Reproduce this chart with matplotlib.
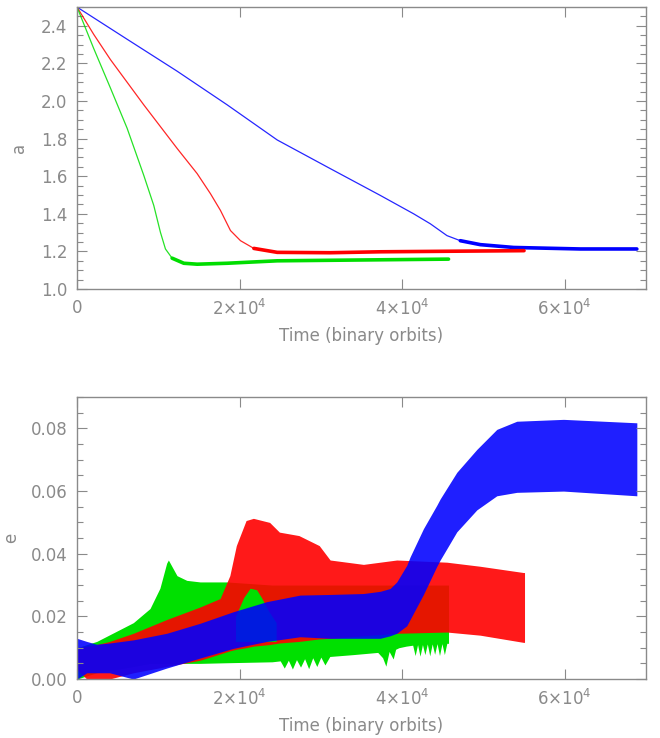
import numpy as np
import matplotlib.pyplot as plt
from matplotlib.ticker import MultipleLocator, FixedLocator

# ---- top panel: semi-major axis a vs time ----
blue_t = [0, 6158, 12315, 18470, 24630, 31140, 37315, 41420, 43470, 45520, 47160, 49620, 53720, 61930, 68880]
blue_a = [2.50, 2.329, 2.159, 1.980, 1.793, 1.641, 1.498, 1.400, 1.347, 1.284, 1.257, 1.236, 1.221, 1.213, 1.213]

red_t = [0, 2050, 4105, 8210, 12315, 14780, 16420, 17650, 18880, 20115, 21760, 24630, 31140, 37315, 55000]
red_a = [2.50, 2.355, 2.221, 1.980, 1.748, 1.614, 1.507, 1.418, 1.311, 1.257, 1.216, 1.195, 1.193, 1.198, 1.204]

green_t = [0, 2050, 4105, 6158, 8210, 9440, 10260, 10880, 11700, 13140, 14780, 18470, 24630, 45710]
green_a = [2.50, 2.28, 2.070, 1.856, 1.605, 1.445, 1.302, 1.213, 1.164, 1.137, 1.132, 1.137, 1.150, 1.159]

# ---- bottom panel: eccentricity envelopes (upper / lower) ----
g_t  = [0, 2420, 6930, 8980, 10200, 11030, 11240, 12300, 13500, 15140, 18400, 24000,
        25000, 25500, 26000, 26500, 27000, 27500, 28000, 28500, 29000, 29500, 30000, 30500, 31100,
        34000, 37000, 37600, 38000, 38400, 38900, 39200, 39600, 40500, 41300, 41600, 41900, 42200,
        42500, 42800, 43100, 43400, 43700, 44000, 44300, 44600, 44900, 45200, 45500, 45710]
g_hi = [0.010, 0.012, 0.018, 0.0225, 0.029, 0.037, 0.038, 0.033, 0.0315, 0.031, 0.031, 0.030,
        0.030, 0.030, 0.030, 0.030, 0.030, 0.030, 0.030, 0.030, 0.030, 0.030, 0.030, 0.030, 0.030,
        0.030, 0.030, 0.030, 0.030, 0.030, 0.030, 0.030, 0.030, 0.030, 0.030, 0.030, 0.030, 0.030,
        0.030, 0.030, 0.030, 0.030, 0.030, 0.030, 0.030, 0.030, 0.030, 0.030, 0.030, 0.030]
g_lo = [0.0, 0.002, 0.004, 0.005, 0.005, 0.005, 0.005, 0.005, 0.005, 0.005, 0.0052, 0.0055,
        0.0058, 0.0035, 0.006, 0.0032, 0.0062, 0.0038, 0.0065, 0.0033, 0.0068, 0.004, 0.007, 0.0045, 0.0072,
        0.0078, 0.0085, 0.0068, 0.0041, 0.0088, 0.0064, 0.0095, 0.010, 0.0105, 0.0108, 0.0075, 0.011, 0.0073,
        0.011, 0.0078, 0.0112, 0.0074, 0.0112, 0.0079, 0.0113, 0.0075, 0.0113, 0.0078, 0.0114, 0.0114]

# green bump that shows on top of the red band
gb_t  = [19500, 20500, 21300, 22100, 22700, 23500, 24500]
gb_hi = [0.020, 0.026, 0.029, 0.0285, 0.026, 0.022, 0.018]
gb_lo = [0.012, 0.012, 0.012, 0.012, 0.012, 0.012, 0.012]

r_t  = [0, 1200, 2420, 4000, 6930, 11030, 15140, 17600, 18800, 19600, 20800, 21700, 23700, 24900, 27300,
        29800, 31140, 35240, 39340, 45500, 49600, 54930, 55060]
r_hi = [0.010, 0.0105, 0.011, 0.012, 0.0146, 0.019, 0.023, 0.0257, 0.033, 0.0426, 0.0506, 0.0513, 0.050,
        0.0469, 0.0458, 0.0426, 0.038, 0.0366, 0.038, 0.0373, 0.036, 0.034, 0.034]
r_lo = [0.003, 0.0, 0.0, 0.0, 0.002, 0.004, 0.006, 0.008, 0.009, 0.0095, 0.010, 0.0105, 0.011, 0.0115,
        0.012, 0.0128, 0.013, 0.0138, 0.0146, 0.015, 0.014, 0.0117, 0.0117]

b_t  = [0, 1200, 2420, 4000, 6930, 11030, 15140, 19240, 23340, 27450, 31140, 35240, 37300, 38520, 39340,
        40570, 40980, 42620, 44270, 44680, 46730, 49190, 51650, 54110, 59860, 68880]
b_hi = [0.013, 0.012, 0.0111, 0.0115, 0.0125, 0.0146, 0.0178, 0.0215, 0.0247, 0.0268, 0.027, 0.0273,
        0.028, 0.0289, 0.031, 0.0363, 0.039, 0.048, 0.0555, 0.0575, 0.066, 0.0733, 0.0797, 0.0823, 0.0829, 0.0818]
b_lo = [0.0, 0.002, 0.002, 0.002, 0.0, 0.0035, 0.0067, 0.0098, 0.012, 0.0135, 0.013, 0.013, 0.013, 0.0138,
        0.0146, 0.017, 0.019, 0.027, 0.036, 0.038, 0.047, 0.054, 0.0585, 0.0596, 0.060, 0.0585]

xticks = [0, 20000, 40000, 60000]
xticklabels = ['0', r'2$\times$10$^4$', r'4$\times$10$^4$', r'6$\times$10$^4$']

gray = '#8a8a8a'
plt.rcParams['font.family'] = ['DejaVu Sans']


def style_axes(ax, ymajor, yminor, fmt):
    ax.set_xlim(0, 70000)
    ax.xaxis.set_major_locator(FixedLocator(xticks))
    ax.set_xticklabels(xticklabels)
    ax.yaxis.set_major_locator(MultipleLocator(ymajor))
    ax.yaxis.set_minor_locator(MultipleLocator(yminor))
    ax.yaxis.set_major_formatter(plt.FormatStrFormatter(fmt))
    ax.tick_params(which='both', direction='in', top=True, right=True, color=gray,
                   labelcolor=gray, labelsize=12, pad=7)
    ax.tick_params(which='major', length=7, width=0.8)
    ax.tick_params(which='minor', length=4, width=0.8)
    for s in ax.spines.values():
        s.set_color(gray)
        s.set_linewidth(1.0)
    ax.set_xlabel('Time (binary orbits)', color=gray, fontsize=12, labelpad=6)


fig = plt.figure(figsize=(6.6, 7.38), dpi=100)

# top panel
ax1 = fig.add_axes([0.1167, 0.6084, 0.862, 0.382])
for t, a, c, tcut in [(blue_t, blue_a, '#0000ff', 47160), (red_t, red_a, '#ff0000', 21760),
                      (green_t, green_a, '#00dd00', 11700)]:
    t = np.array(t)
    a = np.array(a)
    ax1.plot(t, a, color=c, lw=0.9, alpha=0.85)
    m = t >= tcut
    ax1.plot(t[m], a[m], color=c, lw=2.6, solid_capstyle='round')
ax1.set_ylim(1.0, 2.5)
style_axes(ax1, 0.2, 0.05, '%.1f')
ax1.set_ylabel('a', color=gray, fontsize=12)
ax1.yaxis.set_label_coords(-0.086, 0.5)

# bottom panel
ax2 = fig.add_axes([0.1167, 0.0799, 0.862, 0.382])
ax2.fill_between(g_t, g_lo, g_hi, color='#00e000', lw=0)
ax2.fill_between(r_t, r_lo, r_hi, color='#ff0000', alpha=0.9, lw=0)
ax2.fill_between(gb_t, gb_lo, gb_hi, color='#00e000', lw=0)
ax2.fill_between(b_t, b_lo, b_hi, color='#0000ff', alpha=0.88, lw=0)
ax2.set_ylim(0, 0.09)
style_axes(ax2, 0.02, 0.005, '%.2f')
ax2.set_ylabel('e', color=gray, fontsize=12)
ax2.yaxis.set_label_coords(-0.100, 0.5)

fig.canvas.draw()
for ax in (ax1, ax2):
    ax.get_yticklabels()[0].set_verticalalignment('bottom')

fig.savefig('out.png', dpi=100)
